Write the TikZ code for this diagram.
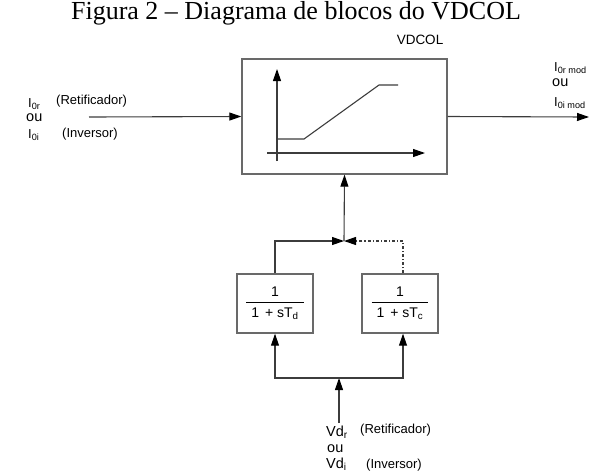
\documentclass[tikz,border=0pt]{standalone}
\usepackage{fontspec}
\setmainfont{Liberation Serif}
\setsansfont{Liberation Sans}
\usepackage{tikz}
\usetikzlibrary{arrows.meta,positioning,calc}
\definecolor{lineGray}{RGB}{60,60,60}
\definecolor{boxGray}{RGB}{105,105,105}
\tikzset{
  blockbox/.style={
    rectangle, draw=boxGray, line width=1.4pt, fill=white, inner sep=0pt
  },
  sigArrow/.style={-{Triangle[length=12pt,width=8pt,color=black]}, line width=1.1pt, draw=lineGray}
}
\begin{document}
\begin{tikzpicture}[x=1pt, y=-1pt,
        lbl/.style={font=\sffamily\fontsize{13}{15}\selectfont, inner sep=0pt, anchor=west},
        sig/.style={font=\sffamily\fontsize{14.5}{16}\selectfont, inner sep=0pt, anchor=west},
        frac/.style={blockbox, minimum width=76pt, minimum height=59pt,
                     font=\sffamily\fontsize{14}{16}\selectfont}]
        \useasboundingbox (0,0) rectangle (599,475);
        % title
        \node[font=\fontsize{26}{30}\selectfont, inner sep=0pt] (title) at (296,13)
              {Figura 2 -- Diagrama de blocos do VDCOL};
        % main block
        \node[blockbox, minimum width=205pt, minimum height=115pt] (vdcol) at (344.5,116.5) {};
        \node[lbl, anchor=center, font=\sffamily\fontsize{13.5}{15}\selectfont] (vdname) at (420,40) {VDCOL};
        % characteristic inside the block
        \draw[sigArrow] (277,161) -- (277,69);
        \draw[sigArrow] (267,153) -- (425,153);
        \draw[line width=1.1pt, draw=lineGray] (277,139) -- (304,139) -- (379,85) -- (398,85);
        % input / output
        \coordinate (in) at (89,117);
        \coordinate (out) at (589,117);
        \draw[sigArrow] (in) -- (vdcol.west);
        \draw[sigArrow] (vdcol.east) -- (out);
        \node[lbl] (ir) at (28,104) {I\textsubscript{0r}};
        \node[lbl] (irt) at (56,101) {(Retificador)};
        \node[sig] (ouin) at (26,118) {ou};
        \node[lbl] (ii) at (28,135) {I\textsubscript{0i}};
        \node[lbl] (iit) at (62,134) {(Inversor)};
        \node[lbl] (irm) at (554,68) {I\textsubscript{0r mod}};
        \node[sig] (ouout) at (552,83) {ou};
        \node[lbl] (iim) at (554,103) {I\textsubscript{0i mod}};
        % filters
        \node[frac] (ftd) at (275,303.5)
              {\arrayrulewidth=1.2pt\begin{tabular}{@{\hspace{5pt}}c@{\hspace{5pt}}}1\\[1pt]\hline\rule{0pt}{14pt}1\hspace{2pt} + sT\textsubscript{d}\end{tabular}};
        \node[frac] (ftc) at (400,303.5)
              {\arrayrulewidth=1.2pt\begin{tabular}{@{\hspace{5pt}}c@{\hspace{5pt}}}1\\[1pt]\hline\rule{0pt}{14pt}1\hspace{2pt} + sT\textsubscript{c}\end{tabular}};
        \coordinate (jn) at (344,241);
        \draw[sigArrow] (jn) -- (vdcol.south);
        \draw[sigArrow] (ftd.north) |- (jn);
        \draw[sigArrow, dash dot] ([xshift=3pt]ftc.north) |- (jn);
        % voltage input
        \coordinate (fork) at (339,378);
        \coordinate (src) at (339,423);
        \draw[sigArrow] (src) -- (fork);
        \draw[sigArrow] (fork) -| (ftd.south);
        \draw[sigArrow] (fork) -| ([xshift=3pt]ftc.south);
        \node[sig] (vdr) at (326,432) {Vd\textsubscript{r}};
        \node[lbl] (vdrt) at (360,430) {(Retificador)};
        \node[sig] (ouvd) at (327,449) {ou};
        \node[sig] (vdi) at (326,464) {Vd\textsubscript{i}};
        \node[lbl] (vdit) at (366,465) {(Inversor)};
      \end{tikzpicture}
\end{document}
